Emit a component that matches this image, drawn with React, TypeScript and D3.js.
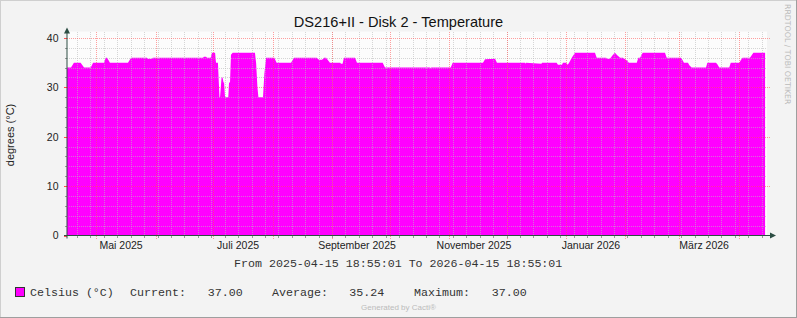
import React from "react";
import * as d3 from "d3";

// ---- data (days since start, value in °C) ----
const START_ISO = "2025-04-15T18:55:01";
const END_ISO = "2026-04-15T18:55:01";
const dayOffsets = [
  0, 2.1, 3.6, 7.1, 8.9, 12.4, 13.6, 19.3, 20.2, 20.9, 22.4, 31.8, 33.4, 41.7, 42.2, 44.3, 44.8,
  70.9, 71.4, 72.5, 73.0, 74.9, 75.6, 77.2, 77.7, 78.7, 79.5, 79.8, 80.6, 81.1, 81.6, 81.9, 82.4,
  84.1, 84.5, 85.0, 85.5, 86.4, 98.0, 98.6, 99.3, 99.8, 102.2, 102.9, 103.8, 108.1, 109.3, 116.8,
  118.4, 130.2, 131.4, 133.0, 134.0, 135.1, 137.1, 142.4, 142.9, 143.7, 144.4, 150.2, 151.2,
  164.6, 165.8, 189.3, 189.5, 189.8, 200.1, 201.1, 216.9, 218.0, 223.2, 224.2, 238.8, 239.1,
  239.3, 247.4, 247.7, 255.3, 256.0, 258.1, 258.6, 260.2, 261.1, 261.8, 263.2, 264.9, 275.3,
  276.2, 281.1, 281.6, 283.1, 284.5, 285.7, 286.9, 288.4, 289.9, 291.8, 293.0, 297.1, 297.9,
  298.8, 300.2, 311.8, 312.7, 320.2, 321.0, 321.7, 323.8, 324.5, 325.7, 333.2, 333.9, 338.4,
  339.1, 340.1, 345.3, 346.1, 350.6, 351.3, 352.3, 356.1, 357.0, 357.9, 364.0,
];
const celsius = [
  34, 34, 35, 35, 34, 34, 35, 35, 36, 36, 35, 35, 36, 36, 35.8, 35.8, 36,
  36, 36.2, 36.2, 36, 36, 37, 37, 35, 35, 28, 28, 32, 32, 31, 31, 28,
  28, 31, 31, 36.6, 37, 37, 35, 30, 28, 28, 32.7, 36, 36, 35, 35,
  36, 36, 35.6, 35.6, 36, 36, 35, 35, 34.8, 34.8, 36, 36, 35,
  35, 34, 34, 33.8, 34, 34, 35, 35, 35.7, 35.8, 35, 35, 34.8,
  35, 34.8, 35, 35, 34.6, 34.6, 35, 35, 34.6, 35, 36, 37, 37,
  36, 36, 35.8, 35.8, 36.5, 37, 36.5, 36, 36, 35.5, 35, 35, 36,
  36, 37, 37, 36, 36, 35.5, 35, 35, 34.5, 34, 34, 35, 35,
  34.7, 34, 34, 35, 35, 35.5, 36, 36, 36.5, 37, 37,
];
const yTicks = [0, 10, 20, 30, 40];
const monthNames = ["Januar", "Februar", "März", "April", "Mai", "Juni", "Juli", "August", "September", "Oktober", "November", "Dezember"];
const title = "DS216+II - Disk 2 - Temperature";
const seriesName = "Celsius (°C)";
const legendStats = [
  { label: "Current:", value: "37.00" },
  { label: "Average:", value: "35.24" },
  { label: "Maximum:", value: "37.00" },
];

const W = 797;
const H = 318;
const PL = 67, PR = 767, PT = 35.5, PB = 235.5;
const PINK = "#FF00FF";
const AXIS = "#2C4D43";
const SANS = "'Liberation Sans', Arial, sans-serif";
const MONO = "'Liberation Mono', 'Courier New', monospace";
const MONO_SIZE = 11.65;

export default function App() {
  const start = new Date(START_ISO);
  const end = new Date(END_ISO);
  const x = d3.scaleTime().domain([start, end]).range([PL, PR]);
  const y = d3.scaleLinear().domain([0, 40.5]).range([PB, PT]);

  const pts = dayOffsets.map((d, i) => ({ t: new Date(start.getTime() + d * 86400000), v: celsius[i] }));
  const area = d3.area<{ t: Date; v: number }>()
    .x((d) => x(d.t))
    .y0(y(0))
    .y1((d) => y(d.v))
    .curve(d3.curveLinear);

  const weeks = d3.timeMonday.range(start, end);
  const months = d3.timeMonth.range(d3.timeMonth.ceil(start), end);
  const labelMonths = d3.timeMonth.every(2)!.range(d3.timeMonth.ceil(start), end);
  const minorY = d3.range(2, 40.1, 2).filter((v) => v % 10 !== 0);
  const px = (v: number) => Math.round(v) + 0.5;

  return (
    <svg width={W} height={H} style={{ display: "block", position: "absolute", left: 0, top: 0 }}>
      <rect x={0} y={0} width={W} height={H} fill="#F3F3F3" />
      <line x1={0.5} y1={0} x2={0.5} y2={H} stroke="#CFCFCF" />
      <line x1={0} y1={0.5} x2={W} y2={0.5} stroke="#CFCFCF" />
      <line x1={W - 0.5} y1={0} x2={W - 0.5} y2={H} stroke="#9E9E9E" />
      <line x1={0} y1={H - 0.5} x2={W} y2={H - 0.5} stroke="#9E9E9E" />

      <rect x={PL} y={PT - 4} width={PR - PL} height={PB - PT + 4} fill="#FCFCFC" />
      <path d={area(pts) || ""} fill={PINK} />

      {/* grid */}
      <g strokeDasharray="1,1" shapeRendering="crispEdges">
        {minorY.map((v) => (
          <line key={"hy" + v} x1={PL} x2={PR} y1={px(y(v))} y2={px(y(v))} stroke="#BBBBBB" strokeOpacity={0.6} />
        ))}
        {weeks.map((w) => (
          <line key={"vw" + +w} x1={px(x(w))} x2={px(x(w))} y1={PT - 4} y2={PB} stroke="#BBBBBB" strokeOpacity={0.6} />
        ))}
        {yTicks.filter((v) => v > 0).map((v) => (
          <line key={"Hy" + v} x1={PL} x2={PR + 3} y1={px(y(v))} y2={px(y(v))} stroke="#FF5050" strokeOpacity={0.55} />
        ))}
        {months.map((m) => (
          <line key={"vm" + +m} x1={px(x(m))} x2={px(x(m))} y1={PT - 4} y2={PB + 3} stroke="#FF5050" strokeOpacity={0.55} />
        ))}
      </g>

      {/* axis ticks */}
      <g shapeRendering="crispEdges">
        {minorY.map((v) => (
          <line key={"ty" + v} x1={PL - 2} x2={PL} y1={px(y(v))} y2={px(y(v))} stroke="#999" />
        ))}
        {yTicks.map((v) => (
          <line key={"tY" + v} x1={PL - 3} x2={PL} y1={px(y(v))} y2={px(y(v))} stroke="#FF5050" />
        ))}
        {weeks.map((w) => (
          <line key={"tw" + +w} x1={px(x(w))} x2={px(x(w))} y1={PB} y2={PB + 2} stroke="#999" />
        ))}
      </g>

      {/* axes */}
      <line x1={PL - 3} x2={PR + 5} y1={PB} y2={PB} stroke={AXIS} />
      <path d={`M${PR + 3},${PB - 3} L${PR + 9},${PB} L${PR + 3},${PB + 3} Z`} fill={AXIS} />
      <line x1={PL} x2={PL} y1={PB + 3} y2={PT - 4} stroke={AXIS} />
      <path d={`M${PL - 3},${PT - 2} L${PL},${PT - 8} L${PL + 3},${PT - 2} Z`} fill={AXIS} />

      {/* y labels */}
      {yTicks.map((v) => (
        <text key={"yl" + v} x={58.5} y={y(v) + 3.8} textAnchor="end" fontFamily={SANS} fontSize={10.5} fill="#222">
          {v}
        </text>
      ))}
      <text transform="translate(14,135) rotate(-90)" textAnchor="middle" fontFamily={SANS} fontSize={11} fill="#222">
        degrees (°C)
      </text>

      {/* x labels */}
      {labelMonths.map((m) => (
        <text key={"xl" + +m} x={x(new Date(m.getTime() + 13 * 86400000))} y={249} textAnchor="middle" fontFamily={SANS} fontSize={10.5} fill="#222">
          {monthNames[m.getMonth()] + " " + m.getFullYear()}
        </text>
      ))}

      {/* title */}
      <text x={398.5} y={27} textAnchor="middle" fontFamily={SANS} fontSize={14.6} fill="#111">
        {title}
      </text>

      <text transform="translate(785,4) rotate(90)" fontFamily="'DejaVu Sans', sans-serif" fontSize={7.8} fill="#BBBBBB">
        RRDTOOL / TOBI OETIKER
      </text>

      <text x={234} y={267} fontFamily={MONO} fontSize={MONO_SIZE} fill="#333">
        {"From 2025-04-15 18:55:01 To 2026-04-15 18:55:01"}
      </text>

      {/* legend */}
      <rect x={15.5} y={287.5} width={9} height={9} fill={PINK} stroke="#333" />
      <text x={30} y={296} fontFamily={MONO} fontSize={MONO_SIZE} fill="#333">{seriesName}</text>
      {legendStats.map((s, i) => (
        <g key={s.label}>
          <text x={[130, 272, 414][i]} y={296} fontFamily={MONO} fontSize={MONO_SIZE} fill="#333">{s.label}</text>
          <text x={[207.7, 349.3, 491.7][i]} y={296} fontFamily={MONO} fontSize={MONO_SIZE} fill="#333">{s.value}</text>
        </g>
      ))}

      <text x={398.5} y={310} textAnchor="middle" fontFamily={SANS} fontSize={8} fill="#BBBBBB">
        Generated by Cacti®
      </text>
    </svg>
  );
}
